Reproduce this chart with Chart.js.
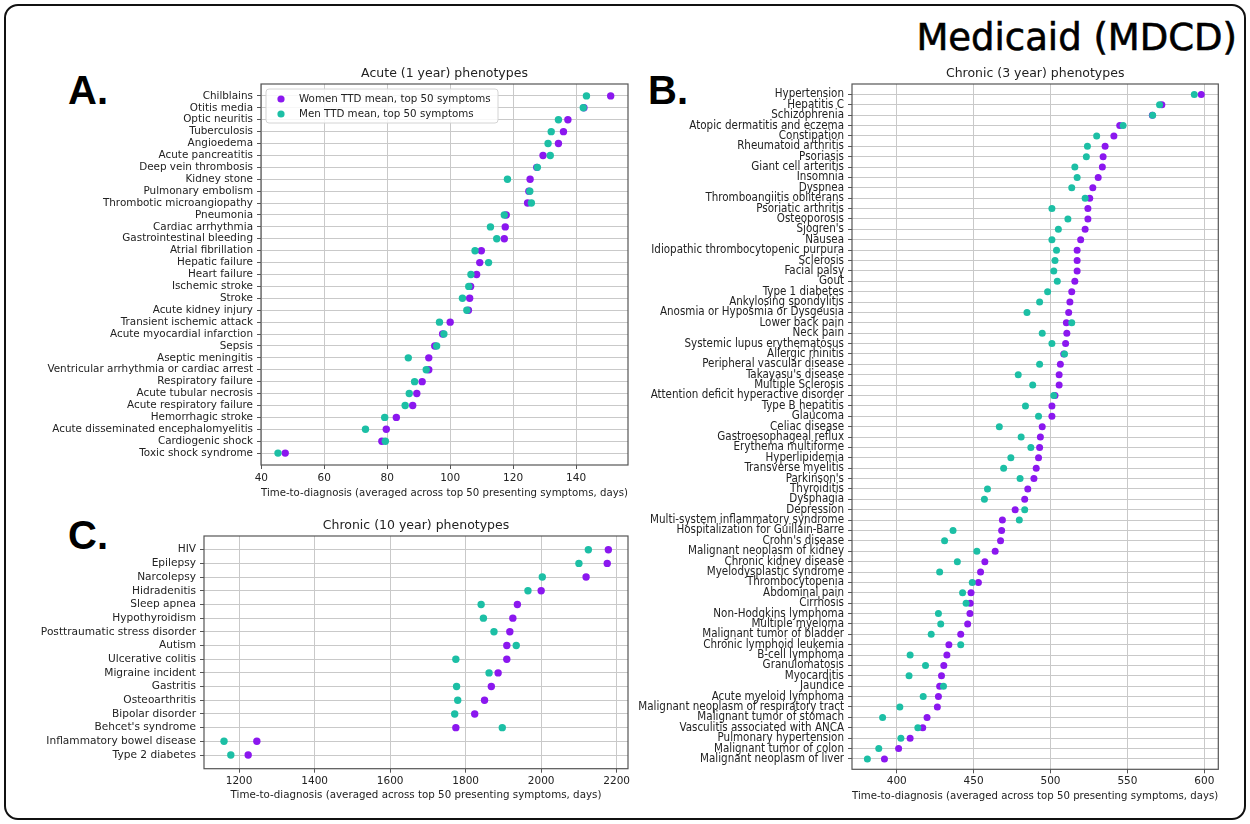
<!DOCTYPE html>
<html>
<head>
<meta charset="utf-8">
<script src="https://cdn.jsdelivr.net/npm/chart.js@4.4.0/dist/chart.umd.min.js"></script>
<style>
  body { margin: 0; background: #fff; }
  #page { position: relative; width: 1250px; height: 824px; overflow: hidden; background: #fff; }
  #frame { position: absolute; left: 4px; top: 4px; width: 1242px; height: 816px; box-sizing: border-box;
           border: 2.5px solid #111; border-radius: 14px; }
  .big { position: absolute; font-family: 'DejaVu Sans', sans-serif; color: #000; white-space: nowrap;
         -webkit-text-stroke: 0.6px #000; }
  .letter { position: absolute; font-family: 'Liberation Sans', Arial, sans-serif; font-weight: bold; font-size: 40px; color: #000; line-height: 40px; }
  canvas { position: absolute; }
</style>
</head>
<body>
<div id="page">
  <div id="frame"></div>
  <div class="big" style="right:13px; top:15px; font-size:37px; line-height:46px;">Medicaid (MDCD)</div>
  <div class="letter" style="left:68px; top:70px;">A.</div>
  <div class="letter" style="left:648px; top:70px;">B.</div>
  <div class="letter" style="left:68px; top:515px;">C.</div>
  <canvas id="acute" width="625" height="442" style="left:15px; top:60px;"></canvas>
  <canvas id="chronic3" width="610" height="745" style="left:630px; top:60px;"></canvas>
  <canvas id="chronic10" width="625" height="294" style="left:15px; top:510px;"></canvas>
</div>
<script>
console.log("drawing MDCD panels")

// A. Acute (1 year)
const acuteLabels = ["Chilblains", "Otitis media", "Optic neuritis", "Tuberculosis", "Angioedema",
    "Acute pancreatitis", "Deep vein thrombosis", "Kidney stone", "Pulmonary embolism",
    "Thrombotic microangiopathy", "Pneumonia", "Cardiac arrhythmia", "Gastrointestinal bleeding",
    "Atrial fibrillation", "Hepatic failure", "Heart failure", "Ischemic stroke", "Stroke",
    "Acute kidney injury", "Transient ischemic attack", "Acute myocardial infarction", "Sepsis",
    "Aseptic meningitis", "Ventricular arrhythmia or cardiac arrest", "Respiratory failure",
    "Acute tubular necrosis", "Acute respiratory failure", "Hemorrhagic stroke",
    "Acute disseminated encephalomyelitis", "Cardiogenic shock", "Toxic shock syndrome"]
const acuteWomen = [151.0, 142.5, 137.4, 136.0, 134.4, 129.5, 127.5, 125.4, 125.0, 124.6, 117.8, 117.5,
    117.2, 109.9, 109.4, 108.4, 106.5, 106.2, 105.8, 100.0, 97.6, 95.1, 93.2, 93.2, 91.1, 89.4, 88.1,
    82.9, 79.7, 78.3, 47.6]
const acuteMen = [143.3, 142.3, 134.4, 132.1, 131.1, 131.8, 127.7, 118.2, 125.3, 125.8, 117.2, 112.8,
    114.8, 107.9, 112.2, 106.6, 105.9, 103.9, 105.3, 96.6, 98.0, 95.7, 86.7, 92.4, 88.7, 87.0, 85.7,
    79.2, 73.1, 79.4, 45.3]
const acuteTicks = [40, 60, 80, 100, 120, 140]

// B. Chronic (3 year)
const chronic3Labels = ["Hypertension", "Hepatitis C", "Schizophrenia", "Atopic dermatitis and eczema",
    "Constipation", "Rheumatoid arthritis", "Psoriasis", "Giant cell arteritis", "Insomnia", "Dyspnea",
    "Thromboangiitis obliterans", "Psoriatic arthritis", "Osteoporosis", "Sjogren's", "Nausea",
    "Idiopathic thrombocytopenic purpura", "Sclerosis", "Facial palsy", "Gout", "Type 1 diabetes",
    "Ankylosing spondylitis", "Anosmia or Hyposmia or Dysgeusia", "Lower back pain", "Neck pain",
    "Systemic lupus erythematosus", "Allergic rhinitis", "Peripheral vascular disease",
    "Takayasu's disease", "Multiple Sclerosis", "Attention deficit hyperactive disorder",
    "Type B hepatitis", "Glaucoma", "Celiac disease", "Gastroesophageal reflux", "Erythema multiforme",
    "Hyperlipidemia", "Transverse myelitis", "Parkinson's", "Thyroiditis", "Dysphagia", "Depression",
    "Multi-system inflammatory syndrome", "Hospitalization for Guillain-Barre", "Crohn's disease",
    "Malignant neoplasm of kidney", "Chronic kidney disease", "Myelodysplastic syndrome",
    "Thrombocytopenia", "Abdominal pain", "Cirrhosis", "Non-Hodgkins lymphoma", "Multiple myeloma",
    "Malignant tumor of bladder", "Chronic lymphoid leukemia", "B-cell lymphoma", "Granulomatosis",
    "Myocarditis", "Jaundice", "Acute myeloid lymphoma", "Malignant neoplasm of respiratory tract",
    "Malignant tumor of stomach", "Vasculitis associated with ANCA", "Pulmonary hypertension",
    "Malignant tumor of colon", "Malignant neoplasm of liver"]
const chronic3Women = [598.0, 572.4, 566.2, 545.0, 541.2, 535.5, 534.2, 533.7, 531.0, 527.5, 525.5, 524.3,
    524.3, 522.5, 519.6, 517.3, 517.3, 517.3, 515.8, 513.8, 512.6, 511.8, 510.3, 510.6, 509.8, 508.6,
    506.4, 505.6, 505.6, 502.9, 500.9, 500.9, 494.6, 493.4, 492.9, 492.2, 490.7, 489.2, 485.2, 483.2,
    477.0, 468.7, 468.2, 467.5, 464.0, 457.3, 454.5, 453.1, 448.3, 447.8, 447.6, 446.1, 441.6, 433.9,
    432.6, 430.6, 429.1, 427.9, 427.1, 426.4, 419.7, 416.9, 408.7, 401.2, 392.0]
const chronic3Men = [593.5, 570.9, 566.4, 547.2, 530.0, 524.0, 523.3, 515.8, 517.3, 513.8, 522.5, 500.9,
    511.3, 505.1, 500.9, 503.9, 502.9, 502.1, 504.4, 498.1, 492.9, 484.7, 513.8, 494.6, 500.9, 509.1,
    492.9, 479.0, 488.4, 502.1, 483.7, 492.2, 466.7, 480.9, 487.2, 474.2, 469.5, 480.2, 459.0, 457.0,
    483.2, 479.7, 436.6, 431.1, 452.1, 439.4, 427.9, 449.1, 442.8, 445.1, 427.1, 428.6, 422.4, 441.6,
    408.7, 418.7, 408.0, 430.4, 417.2, 402.0, 390.8, 413.7, 402.7, 388.3, 380.9]
const chronic3Ticks = [400, 450, 500, 550, 600]

// C. Chronic (10 year)
const chronic10Labels = ["HIV", "Epilepsy", "Narcolepsy", "Hidradenitis", "Sleep apnea", "Hypothyroidism",
    "Posttraumatic stress disorder", "Autism", "Ulcerative colitis", "Migraine incident", "Gastritis",
    "Osteoarthritis", "Bipolar disorder", "Behcet's syndrome", "Inflammatory bowel disease", "Type 2 diabetes"]
const chronic10Women = [2178, 2175, 2119, 2000, 1937, 1925, 1917, 1909, 1909, 1886, 1868, 1850, 1824, 1774, 1247, 1224]
const chronic10Men = [2125, 2100, 2003, 1965, 1841, 1847, 1875, 1934, 1774, 1862, 1776, 1779, 1771, 1897, 1160, 1178]
const chronic10Ticks = [1200, 1400, 1600, 1800, 2000, 2200]

const womenColor = '#8b17ef'
const menColor = '#1cbfa5'
const gridColor = '#c9c9c9'
const fontFamily = "'DejaVu Sans', sans-serif"
const xTitle = 'Time-to-diagnosis (averaged across top 50 presenting symptoms, days)'

// matplotlib style box around the plot
const spines = {
    id: 'spines',
    beforeDatasetsDraw(chart) {
        const a = chart.chartArea
        const c = chart.ctx
        c.save()
        c.strokeStyle = '#555'
        c.lineWidth = 1.2
        c.strokeRect(a.left, a.top, a.right - a.left, a.bottom - a.top)
        c.restore()
    }
}

// legend box inside the acute panel
const boxLegend = {
    id: 'boxLegend',
    afterDatasetsDraw(chart) {
        const a = chart.chartArea
        const c = chart.ctx
        const x = a.left + 5, y = a.top + 5, w = 232, h = 34
        c.save()
        c.fillStyle = 'rgba(255,255,255,0.85)'
        c.strokeStyle = '#d4d4d4'
        c.lineWidth = 1
        c.beginPath()
        c.roundRect(x, y, w, h, 3)
        c.fill()
        c.stroke()
        const items = [['Women TTD mean, top 50 symptoms', womenColor], ['Men TTD mean, top 50 symptoms', menColor]]
        c.font = '10.3px ' + fontFamily
        c.textBaseline = 'middle'
        items.forEach((it, i) => {
            const cy = y + 10 + i * 15
            c.fillStyle = it[1]
            c.beginPath()
            c.arc(x + 15, cy, 3.6, 0, Math.PI * 2)
            c.fill()
            c.fillStyle = '#222'
            c.fillText(it[0], x + 33, cy)
        })
        c.restore()
    }
}

function makePanel(id, title, labels, women, men, ticks, o) {
    const ctx = document.getElementById(id).getContext('2d')
    const toPoints = (arr) => arr.map((v, i) => ({x: v, y: i}))
    return new Chart(ctx, {
        type: 'scatter',
        data: {
            datasets: [{
                label: 'Women TTD mean, top 50 symptoms',
                data: toPoints(women),
                xAxisID: 'x',
                yAxisID: 'y',
                backgroundColor: womenColor,
                borderWidth: 0,
                pointRadius: o.r,
                pointHoverRadius: o.r,
                order: 2
            }, {
                label: 'Men TTD mean, top 50 symptoms',
                data: toPoints(men),
                xAxisID: 'x',
                yAxisID: 'y',
                backgroundColor: menColor,
                borderWidth: 0,
                pointRadius: o.r,
                pointHoverRadius: o.r,
                order: 1
            }]
        },
        options: {
            responsive: false,
            animation: false,
            layout: { padding: { left: 0, right: o.padRight, top: 0, bottom: 0 } },
            plugins: {
                legend: { display: false },
                tooltip: { enabled: false }
            },
            scales: {
                x: {
                    type: 'linear',
                    position: 'bottom',
                    min: o.xMin,
                    max: o.xMax,
                    afterBuildTicks: (scale) => { scale.ticks = ticks.map(v => ({value: v})) },
                    afterFit: (scale) => { scale.height = o.xHeight },
                    grid: { color: gridColor, lineWidth: 1, tickLength: 4, tickColor: '#555' },
                    border: { display: false },
                    ticks: {
                        color: '#222', padding: o.xPad, maxRotation: 0,
                        font: { family: fontFamily, size: 10.5 },
                        callback: (v) => String(v)
                    },
                    title: {
                        display: true,
                        text: xTitle,
                        color: '#222',
                        font: { family: fontFamily, size: 10.3 },
                        padding: { top: 0, bottom: 2 }
                    }
                },
                y: {
                    type: 'linear',
                    reverse: true,
                    min: -1,
                    max: labels.length,
                    afterBuildTicks: (scale) => { scale.ticks = labels.map((l, i) => ({value: i})) },
                    afterFit: (scale) => { scale.width = o.yWidth },
                    grid: { color: gridColor, lineWidth: 1, tickLength: 4, tickColor: '#555' },
                    border: { display: false },
                    ticks: {
                        autoSkip: false,
                        color: '#222',
                        padding: 4,
                        font: { family: o.yFamily || fontFamily, size: o.yFont },
                        callback: (v) => labels[v]
                    }
                },
                // top axis only carries the panel title, so it is centred over the plot
                top: {
                    type: 'linear',
                    position: 'top',
                    afterFit: (scale) => { scale.height = o.topHeight },
                    grid: { display: false, drawTicks: false },
                    border: { display: false },
                    ticks: { display: false },
                    title: {
                        display: true,
                        text: title,
                        color: '#222',
                        font: { family: fontFamily, size: 12.5 },
                        padding: { top: o.titleTop, bottom: 0 }
                    }
                }
            }
        },
        plugins: o.legend ? [spines, boxLegend] : [spines]
    })
}

makePanel('acute', 'Acute (1 year) phenotypes', acuteLabels, acuteWomen, acuteMen, acuteTicks, {
    xMin: 39.9, xMax: 156.5, r: 3.7, padRight: 12, topHeight: 24, titleTop: 6.5,
    xHeight: 37, xPad: 3, yWidth: 246, yFont: 10.4, legend: true
})

makePanel('chronic3', 'Chronic (3 year) phenotypes', chronic3Labels, chronic3Women, chronic3Men, chronic3Ticks, {
    xMin: 370.9, xMax: 609.1, r: 3.5, padRight: 21.7, topHeight: 24, titleTop: 6.5,
    xHeight: 35.7, xPad: 2, yWidth: 222, yFont: 11.5,
    yFamily: "'DejaVu Sans Condensed', 'DejaVu Sans', sans-serif"
})

makePanel('chronic10', 'Chronic (10 year) phenotypes', chronic10Labels, chronic10Women, chronic10Men, chronic10Ticks, {
    xMin: 1107, xMax: 2230, r: 3.7, padRight: 12, topHeight: 26, titleTop: 8.2,
    xHeight: 35.3, xPad: 2, yWidth: 189, yFont: 10.6
})
</script>
</body>
</html>
